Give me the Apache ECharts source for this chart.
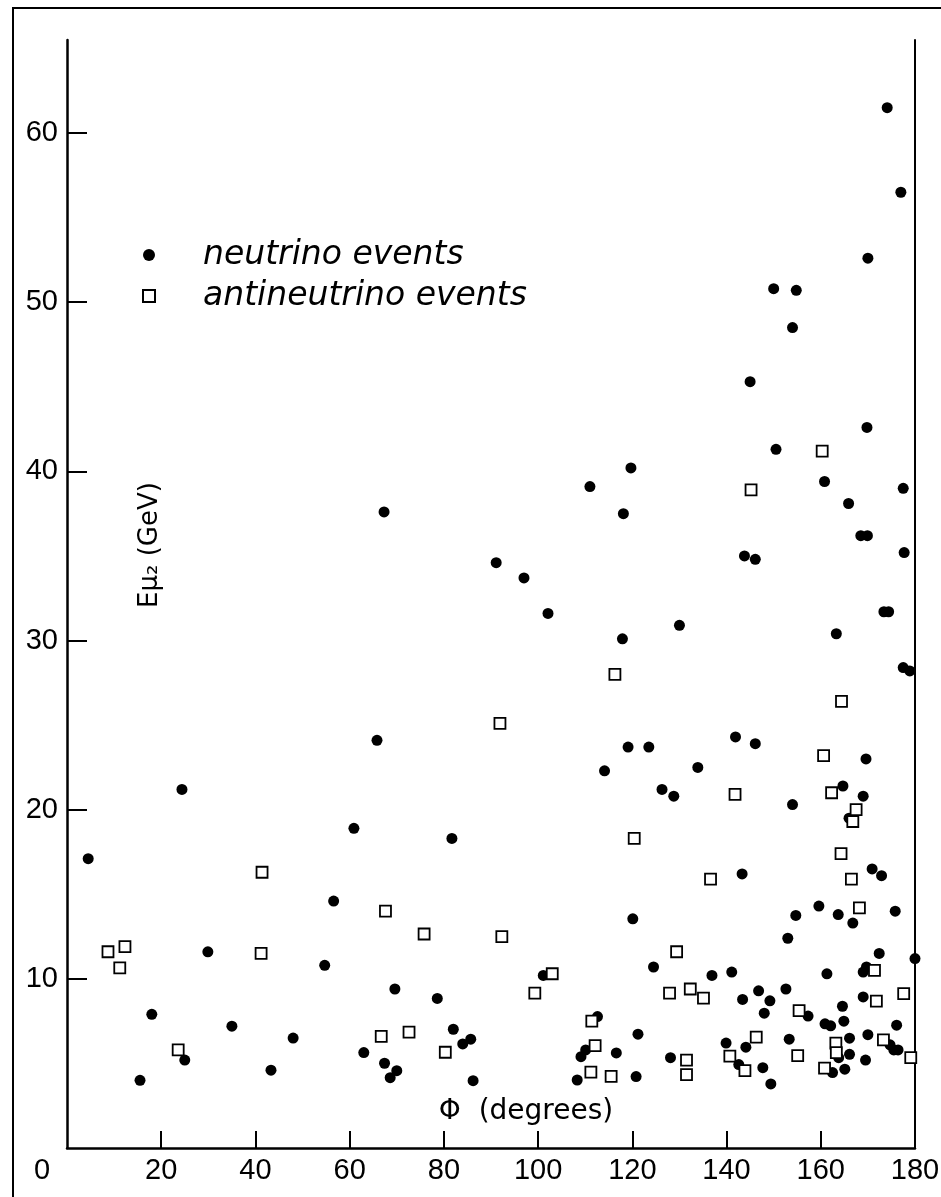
<!DOCTYPE html>
<html>
<head>
<meta charset="utf-8">
<script src="https://cdn.jsdelivr.net/npm/echarts@6/dist/echarts.min.js"></script>
<style>
  html, body { margin: 0; padding: 0; background: #fff; }
  #chart { width: 941px; height: 1197px; }
</style>
</head>
<body>
<div id="chart"></div>
<script>
// ---- data (phi in degrees, E in GeV) ----
var neutrinoEvents = [
  [174.1, 61.5], [177.0, 56.5], [170.0, 52.6], [150.0, 50.8], [154.8, 50.7], [154.0, 48.5], [145.0, 45.3],
  [169.8, 42.6], [150.5, 41.3], [160.8, 39.4], [177.5, 39.0], [119.7, 40.2], [118.1, 37.5], [165.9, 38.1],
  [168.5, 36.2], [169.9, 36.2], [177.7, 35.2], [143.8, 35.0], [146.1, 34.8], [173.4, 31.7], [174.4, 31.7],
  [130.0, 30.9], [117.9, 30.1], [163.3, 30.4], [177.5, 28.4], [178.9, 28.2], [119.1, 23.7], [123.5, 23.7],
  [141.9, 24.3], [146.1, 23.9], [169.6, 23.0], [114.1, 22.3], [133.9, 22.5], [126.3, 21.2], [128.8, 20.8],
  [164.7, 21.4], [169.0, 20.8],
  [154.0, 20.3], [166.0, 19.5], [143.3, 16.2], [170.9, 16.5], [172.9, 16.1], [120.1, 13.55], [159.6, 14.3],
  [154.7, 13.75], [163.7, 13.8], [166.8, 13.3], [175.8, 14.0], [153.0, 12.4], [172.4, 11.5], [124.5, 10.7],
  [136.9, 10.2], [141.1, 10.4], [161.3, 10.3], [169.7, 10.7], [169.0, 10.4], [180.0, 11.2], [143.4, 8.78],
  [146.8, 9.29], [149.2, 8.7], [152.6, 9.4], [148.0, 7.97], [157.3, 7.8], [169.0, 8.93], [164.6, 8.38],
  [160.9, 7.34], [162.1, 7.22], [164.9, 7.5], [176.1, 7.26], [121.2, 6.73], [116.6, 5.62], [139.9, 6.2],
  [144.1, 5.96], [153.3, 6.43], [166.1, 6.49], [170.0, 6.7], [174.7, 6.1], [175.5, 5.8], [176.4, 5.8],
  [163.8, 5.34], [166.1, 5.54], [169.5, 5.2], [128.1, 5.34], [142.6, 4.93], [147.7, 4.75], [149.4, 3.79],
  [162.5, 4.46], [165.1, 4.66], [120.8, 4.22],
  [60.9, 18.9], [81.7, 18.3], [56.6, 14.6], [54.7, 10.8], [101.1, 10.2], [69.6, 9.4], [78.6, 8.84],
  [112.6, 7.77], [82.0, 7.02], [84.0, 6.15], [85.7, 6.43], [63.0, 5.64], [67.4, 5.01], [68.6, 4.16],
  [70.0, 4.57], [86.2, 3.98], [109.1, 5.4], [110.1, 5.8], [108.3, 4.02],
  [4.5, 17.1], [18.0, 7.9], [15.5, 4.0], [25.0, 5.2], [24.4, 21.2], [29.9, 11.6], [35.0, 7.2], [43.3, 4.6],
  [48.0, 6.5], [65.8, 24.1], [67.3, 37.6], [91.1, 34.6], [97.0, 33.7], [102.1, 31.6], [111.0, 39.1]
];
var antineutrinoEvents = [
  [160.3, 41.2], [145.2, 38.9], [116.3, 28.0], [164.4, 26.4], [160.6, 23.2], [141.8, 20.9], [162.3, 21.0],
  [167.5, 20.0], [166.8, 19.3], [120.4, 18.3], [164.3, 17.4], [136.6, 15.9], [166.5, 15.9], [168.2, 14.2],
  [129.4, 11.6], [171.4, 10.5], [127.9, 9.15], [132.3, 9.4], [135.1, 8.86], [155.4, 8.12], [171.8, 8.68],
  [177.6, 9.13], [146.3, 6.55], [163.2, 6.2], [173.3, 6.39], [163.3, 5.64], [179.1, 5.34], [131.5, 5.19],
  [131.5, 4.34], [140.7, 5.43], [143.9, 4.57], [155.1, 5.46], [160.8, 4.72], [115.5, 4.24],
  [67.6, 14.0], [75.8, 12.65], [92.3, 12.5], [103.0, 10.3], [99.3, 9.15], [111.4, 7.5], [66.7, 6.6],
  [72.6, 6.85], [80.3, 5.66], [112.1, 6.05], [111.2, 4.48],
  [8.7, 11.6], [12.3, 11.9], [11.2, 10.65], [23.6, 5.8], [41.2, 11.5], [41.4, 16.3], [91.9, 25.1]
];
var xTickValues = [20, 40, 60, 80, 100, 120, 140, 160];
var xLabelValues = [0, 20, 40, 60, 80, 100, 120, 140, 160, 180];
var yTickValues = [10, 20, 30, 40, 50, 60];
var seriesNames = ['neutrino events', 'antineutrino events'];
var xTitle = 'Φ  (degrees)';
var yTitle = 'Eμ₂ (GeV)';

var chart = echarts.init(document.getElementById('chart'), null, { renderer: 'canvas' });

chart.setOption({
  animation: false,
  backgroundColor: '#fff',
  grid: { left: 67, right: 26, top: 40, bottom: 49, containLabel: false, outerBoundsMode: 'none' },
  legend: {
    orient: 'vertical', left: 137, top: 230,
    itemWidth: 12, itemHeight: 12, itemGap: 1,
    selectedMode: false,
    data: seriesNames,
    textStyle: {
      fontFamily: 'DejaVu Sans', fontStyle: 'italic', fontSize: 33, lineHeight: 30,
      color: '#000', padding: [0, 0, 10, 43]
    }
  },
  xAxis: {
    type: 'value', min: 0, max: 180, interval: 20,
    name: xTitle, nameLocation: 'middle', nameGap: -36,
    nameTextStyle: { fontFamily: 'DejaVu Sans', fontSize: 28, color: '#000', align: 'center', verticalAlign: 'middle', padding: [0, 0, 0, 70] },
    axisLine: { show: true, onZero: false, lineStyle: { color: '#000', width: 2.5 } },
    axisTick: { show: true, inside: true, length: 17, customValues: xTickValues, lineStyle: { color: '#000', width: 2 } },
    axisLabel: {
      customValues: xLabelValues, margin: 8,
      fontFamily: 'Liberation Sans', fontSize: 29, color: '#000',
      formatter: function (v) { return v === 0 ? '{z|0}' : String(v); },
      rich: { z: { fontFamily: 'Liberation Sans', fontSize: 29, color: '#000', padding: [0, 50, 0, 0] } }
    },
    splitLine: { show: false }
  },
  yAxis: [{
    type: 'value', min: 0, max: 65.5, position: 'left',
    name: yTitle, nameLocation: 'middle', nameGap: -83, nameRotate: 90,
    nameTextStyle: { fontFamily: 'DejaVu Sans', fontSize: 26, color: '#000', align: 'center', verticalAlign: 'middle', padding: [0, 0, 0, 98] },
    axisLine: { show: true, onZero: false, lineStyle: { color: '#000', width: 2.5 } },
    axisTick: { show: true, inside: true, length: 20, customValues: yTickValues, lineStyle: { color: '#000', width: 2 } },
    axisLabel: { customValues: yTickValues, margin: 9, fontFamily: 'Liberation Sans', fontSize: 29, color: '#000' },
    splitLine: { show: false }
  }, {
    type: 'value', min: 0, max: 65.5, position: 'right',
    axisLine: { show: true, onZero: false, lineStyle: { color: '#000', width: 2 } },
    axisTick: { show: false }, axisLabel: { show: false }, splitLine: { show: false }
  }],
  series: [{
    name: seriesNames[0], type: 'scatter', data: neutrinoEvents,
    symbol: 'circle', symbolSize: 11,
    itemStyle: { color: '#000', opacity: 1 },
    emphasis: { disabled: true }, z: 2
  }, {
    name: seriesNames[1], type: 'scatter', data: antineutrinoEvents,
    symbol: 'rect', symbolSize: 11,
    itemStyle: { color: '#fff', borderColor: '#000', borderWidth: 1.8, opacity: 1 },
    emphasis: { disabled: true }, z: 3
  }],
  graphic: [{
    type: 'polyline', silent: true,
    shape: { points: [[13, 1197], [13, 8], [941, 8]] },
    style: { stroke: '#000', lineWidth: 2, fill: null }
  }]
});
</script>
</body>
</html>
